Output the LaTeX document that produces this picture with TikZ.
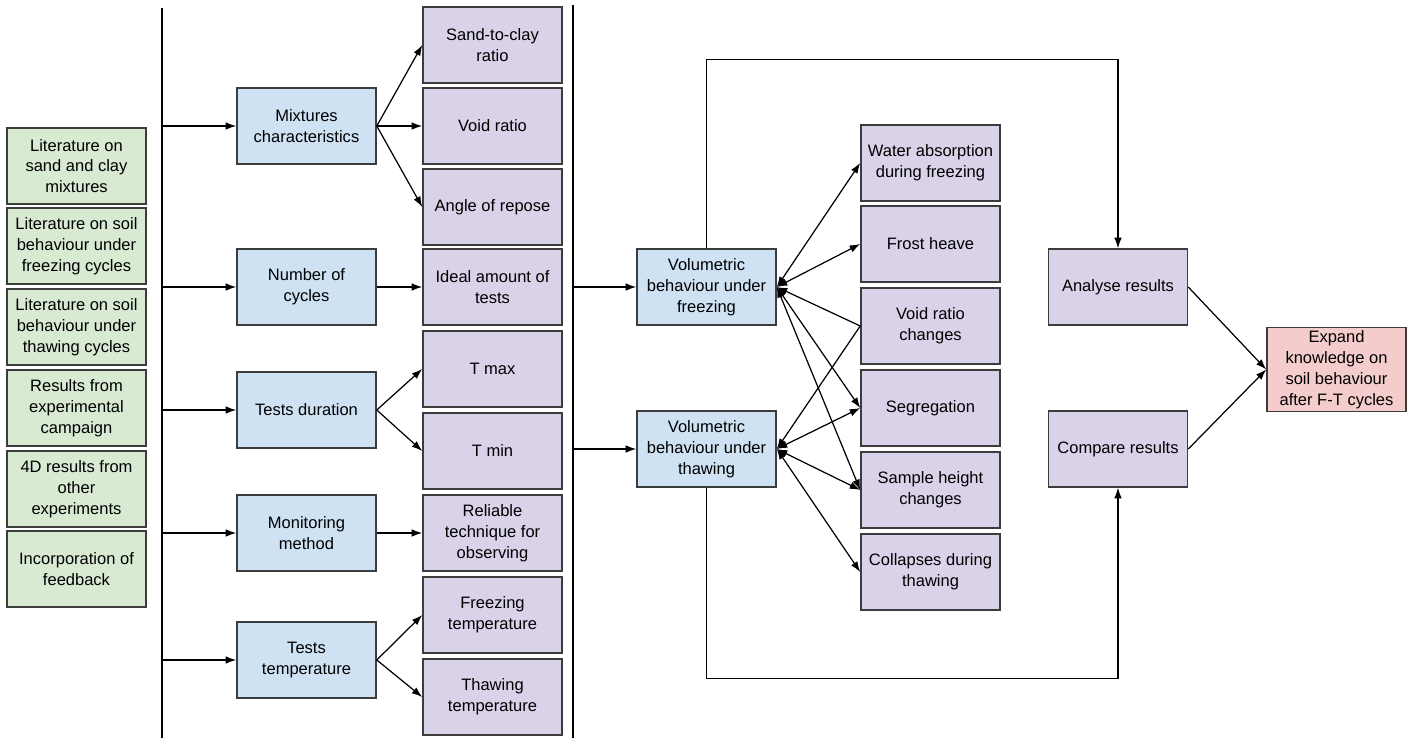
\documentclass[tikz,border=0pt]{standalone}
\usepackage{fontspec}
\setmainfont{Liberation Sans}
\usetikzlibrary{arrows.meta}

\definecolor{litgreen}{HTML}{D9EAD3}
\definecolor{stepblue}{HTML}{CFE2F3}
\definecolor{itempurple}{HTML}{D9D2E9}
\definecolor{goalred}{HTML}{F4CCCC}
\definecolor{boxline}{HTML}{3C3C3C}

\tikzset{
  box/.style={shape=rectangle, draw=boxline, line width=0.9pt, minimum width=2.78cm,
    minimum height=1.52cm, align=center, inner sep=1pt,
    font=\fontsize{9.4}{11.9}\selectfont},
  litbox/.style={box, fill=litgreen},
  stepbox/.style={box, fill=stepblue},
  itembox/.style={box, fill=itempurple},
  goalbox/.style={box, fill=goalred, minimum height=1.68cm},
  arr/.style={-{Latex[length=2.1mm,width=1.5mm]}, line width=0.7pt},
  twoarr/.style={{Latex[length=2.1mm,width=1.5mm]}-{Latex[length=2.1mm,width=1.5mm]}, line width=0.7pt},
  spine/.style={line width=0.8pt}
}

\begin{document}
\begin{tikzpicture}[x=0.02cm, y=-0.02cm]
  \useasboundingbox (0,0) rectangle (1414,738);

  % literature column
  \path (76.5,166) node [litbox] (lit1) {Literature on\\sand and clay\\mixtures}
        (76.5,246) node [litbox] (lit2) {Literature on soil\\behaviour under\\freezing cycles}
        (76.5,327) node [litbox] (lit3) {Literature on soil\\behaviour under\\thawing cycles}
        (76.5,408) node [litbox] (lit4) {Results from\\experimental\\campaign}
        (76.5,489) node [litbox] (lit5) {4D results from\\other\\experiments}
        (76.5,569) node [litbox] (lit6) {Incorporation of\\feedback}
  ;

  % the two vertical lines
  \coordinate (spineA) at (162,8);
  \coordinate (spineB) at (573,5);
  \draw[spine] (spineA) -- (162,738);
  \draw[spine] (spineB) -- (573,738);

  % design steps
  \path (306.5,126) node [stepbox] (mix) {Mixtures\\characteristics}
        (306.5,287) node [stepbox] (cyc) {Number of\\cycles}
        (306.5,410) node [stepbox] (dur) {Tests duration}
        (306.5,533) node [stepbox] (mon) {Monitoring\\method}
        (306.5,660) node [stepbox] (temp) {Tests\\temperature}
  ;

  % design choices
  \path (492.5,45)  node [itembox] (ratio) {Sand-to-clay\\ratio}
        (492.5,126) node [itembox] (void) {Void ratio}
        (492.5,207) node [itembox] (repose) {Angle of repose}
        (492.5,287) node [itembox] (ideal) {Ideal amount of\\tests}
        (492.5,369) node [itembox] (tmax) {T max}
        (492.5,451) node [itembox] (tmin) {T min}
        (492.5,533) node [itembox] (tech) {Reliable\\technique for\\observing}
        (492.5,615) node [itembox] (freezT) {Freezing\\temperature}
        (492.5,697) node [itembox] (thawT) {Thawing\\temperature}
  ;

  \foreach \n in {mix,cyc,dur,mon,temp}
    \draw[arr] (\n.west -| spineA) -- (\n.west);

  \draw[arr] (mix.east) -- (ratio.west);
  \draw[arr] (mix.east) -- (void.west);
  \draw[arr] (mix.east) -- (repose.west);
  \draw[arr] (cyc.east) -- (ideal.west);
  \draw[arr] (dur.east) -- (tmax.west);
  \draw[arr] (dur.east) -- (tmin.west);
  \draw[arr] (mon.east) -- (tech.west);
  \draw[arr] (temp.east) -- (freezT.west);
  \draw[arr] (temp.east) -- (thawT.west);

  % volumetric behaviour
  \path (706.5,287) node [stepbox] (freez) {Volumetric\\behaviour under\\freezing}
        (706.5,449) node [stepbox] (thaw) {Volumetric\\behaviour under\\thawing}
  ;
  \draw[arr] (freez.west -| spineB) -- (freez.west);
  \draw[arr] (thaw.west -| spineB) -- (thaw.west);

  \path (930.5,163) node [itembox] (water) {Water absorption\\during freezing}
        (930.5,244) node [itembox] (heave) {Frost heave}
        (930.5,326) node [itembox] (vchange) {Void ratio\\changes}
        (930.5,408) node [itembox] (segr) {Segregation}
        (930.5,490) node [itembox] (height) {Sample height\\changes}
        (930.5,572) node [itembox] (coll) {Collapses during\\thawing}
  ;

  \draw[twoarr] (freez.east) -- (water.west);
  \draw[twoarr] (freez.east) -- (heave.west);
  \draw[arr] (vchange.west) -- (freez.east);
  \draw[twoarr] (freez.east) -- (segr.west);
  \draw[twoarr] (freez.east) -- (height.west);
  \draw[arr] (vchange.west) -- (thaw.east);
  \draw[twoarr] (thaw.east) -- (segr.west);
  \draw[twoarr] (thaw.east) -- (height.west);
  \draw[twoarr] (thaw.east) -- (coll.west);

  % results
  \path (1118,287) node [itembox] (anal) {Analyse results}
        (1118,449) node [itembox] (comp) {Compare results}
        (1336.5,369.5) node [goalbox] (goal) {Expand\\knowledge on\\soil behaviour\\after F-T cycles}
  ;
  \draw[arr] (freez.north) -- ++(0,-189) -| (anal.north);
  \draw[arr] (thaw.south) -- ++(0,191) -| (comp.south);
  \draw[arr] (anal.east) -- (goal.west);
  \draw[arr] (comp.east) -- (goal.west);

\end{tikzpicture}
\end{document}
